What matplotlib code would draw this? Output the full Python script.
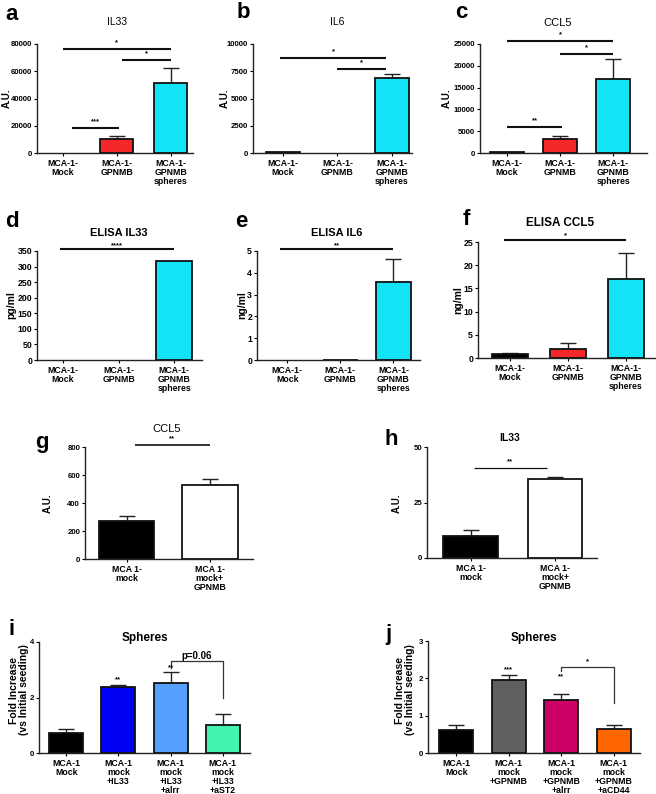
import matplotlib
matplotlib.use("Agg")
import matplotlib.pyplot as plt

plt.rcParams['font.family'] = ['Liberation Sans', 'DejaVu Sans']
plt.rcParams['font.weight'] = 'bold'

W, H = 656, 794

# ---- data ----
cats3 = ['MCA-1-\nMock', 'MCA-1-\nGPNMB', 'MCA-1-\nGPNMB\nspheres']
cats2 = ['MCA 1-\nmock', 'MCA 1-\nmock+\nGPNMB']
cats_i = ['MCA-1\nMock', 'MCA-1\nmock\n+IL33', 'MCA-1\nmock\n+IL33\n+alrr', 'MCA-1\nmock\n+IL33\n+aST2']
cats_j = ['MCA-1\nMock', 'MCA-1\nmock\n+GPNMB', 'MCA-1\nmock\n+GPNMB\n+alrr', 'MCA-1\nmock\n+GPNMB\n+aCD44']

a_mean = [0, 10000, 51500]
a_err = [0, 2200, 11000]
b_mean = [60, 0, 6900]
b_err = [0, 0, 350]
c_mean = [250, 3100, 17000]
c_err = [0, 750, 4500]
d_mean = [0, 0, 318]
d_err = [0, 0, 0]
e_mean = [0, 0.02, 3.6]
e_err = [0, 0, 1.05]
f_mean = [0.86, 1.95, 17.1]
f_err = [0.28, 1.25, 5.5]
g_mean = [275, 527]
g_err = [31, 45]
h_mean = [10.1, 35.4]
h_err = [2.4, 0.9]
i_mean = [0.72, 2.37, 2.53, 1.02]
i_err = [0.13, 0.09, 0.38, 0.40]
j_mean = [0.61, 1.95, 1.43, 0.64]
j_err = [0.14, 0.15, 0.16, 0.11]

RED = '#F42828'
CYAN = '#12E3F7'
col3 = ['black', RED, CYAN]
col2 = ['black', 'white']
col_i = ['black', '#0000F5', '#55A0FF', '#44F2B0']
col_j = ['black', '#606060', '#CC0066', '#FF6600']

fig = plt.figure(figsize=(W / 100, H / 100), dpi=100)


def px_axes(l, r, t, b):
    return fig.add_axes([l / W, 1 - b / H, (r - l) / W, (b - t) / H])


def bar_panel(box, means, errs, colors, cats, xlim, ylim, yticks, width=0.63):
    ax = px_axes(*box)
    x = list(range(len(means)))
    edges = ['#111111' if m > 0 else 'none' for m in means]
    ax.bar(x, means, width=width, color=colors, edgecolor=edges, linewidth=1.3, zorder=2)
    # only draw upper error bars where there is an error
    ex = [k for k in x if errs[k] > 0]
    if ex:
        ax.errorbar(ex, [means[k] for k in ex], yerr=[[0] * len(ex), [errs[k] for k in ex]],
                    fmt='none', ecolor='#222222', elinewidth=1.0, capsize=6, capthick=1.0,
                    zorder=1)
    ax.set_xlim(*xlim)
    ax.set_ylim(*ylim)
    ax.set_yticks(yticks)
    ax.set_xticks(x)
    ax.set_xticklabels(cats, fontsize=6.3, fontweight='bold', linespacing=1.0)
    ax.tick_params(axis='y', labelsize=5.6, length=2.5, width=0.8, pad=1)
    ax.tick_params(axis='x', length=2.5, width=0.8, pad=2)
    for s in ['top', 'right']:
        ax.spines[s].set_visible(False)
    for s in ['left', 'bottom']:
        ax.spines[s].set_linewidth(1.0)
        ax.spines[s].set_color('#222222')
    return ax


def sig(ax, x0, x1, y, label, lw=1.5, dy=2):
    ax.plot([x0, x1], [y, y], color='#111111', lw=lw, clip_on=False, solid_capstyle='butt')
    ax.annotate(label, xy=((x0 + x1) / 2, y), xytext=(0, dy), textcoords='offset points',
                ha='center', va='bottom', fontsize=5.5, annotation_clip=False)


def label(x, y, s, size=16):
    fig.text(x / W, 1 - y / H, s, fontsize=size, fontweight='bold', ha='left', va='baseline')


def title(x, y, s, size=7.5, weight='bold'):
    fig.text(x / W, 1 - y / H, s, fontsize=size, fontweight=weight, ha='center', va='center')


def ylab(x, y, s, size=7):
    fig.text(x / W, 1 - y / H, s, fontsize=size, fontweight='bold', ha='center', va='center',
             rotation=90, linespacing=1.0)


# ---- row 1 ----
ax = bar_panel((37, 193, 44, 153), a_mean, a_err, col3, cats3, (-0.48, 2.41), (0, 80000),
               range(0, 80001, 20000), width=0.61)
sig(ax, 0, 2, 76000, '*')
sig(ax, 1.1, 2, 68000, '*')
sig(ax, 0.17, 1.04, 18000, '***')
label(5, 20, 'a'); title(117, 22, 'IL33', 7.5, 'normal'); ylab(7, 98, 'A.U.')

ax = bar_panel((253, 412, 44, 153), b_mean, b_err, col3, cats3, (-0.55, 2.37), (0, 10000),
               range(0, 10001, 2500))
sig(ax, -0.05, 1.9, 8700, '*')
sig(ax, 1.0, 1.9, 7700, '*')
label(237, 18, 'b'); title(337, 22, 'IL6', 7.5, 'normal'); ylab(225, 98, 'A.U.')

ax = bar_panel((480, 647, 44, 153), c_mean, c_err, col3, cats3, (-0.51, 2.64), (0, 25000),
               range(0, 25001, 5000))
sig(ax, 0, 2, 25600, '*')
sig(ax, 1.0, 2, 22700, '*')
sig(ax, 0, 1.04, 5900, '**')
label(455, 18, 'c'); title(558, 23, 'CCL5', 8, 'normal'); ylab(447, 98, 'A.U.')

# ---- row 2 ----
ax = bar_panel((37, 202, 251, 360), d_mean, d_err, col3, cats3, (-0.47, 2.5), (0, 350),
               range(0, 351, 50), width=0.65)
ax.tick_params(axis='y', labelsize=6.3)
sig(ax, -0.05, 2.0, 357, '****', dy=0)
label(5, 227, 'd'); title(119, 233, 'ELISA IL33', 8); ylab(11, 305, 'pg/ml', 7.5)

ax = bar_panel((257, 420, 251, 360), e_mean, e_err, col3, cats3, (-0.57, 2.5), (0, 5),
               range(0, 6), width=0.65)
ax.tick_params(axis='y', labelsize=6.3)
sig(ax, -0.13, 2.0, 5.09, '**', dy=0)
label(235, 227, 'e'); title(337, 233, 'ELISA IL6', 8); ylab(242, 305, 'ng/ml', 7.5)

ax = bar_panel((478, 655, 242, 358), f_mean, f_err, col3, cats3, (-0.55, 2.5), (0, 25),
               range(0, 26, 5), width=0.63)
ax.tick_params(axis='y', labelsize=6.3)
sig(ax, -0.1, 2.0, 25.4, '*', dy=1)
label(463, 225, 'f'); title(560, 223, 'ELISA CCL5', 8.5); ylab(458, 300, 'ng/ml', 7.5)

# ---- row 3 ----
ax = bar_panel((85, 253, 447, 559), g_mean, g_err, col2, cats2, (-0.5, 1.52), (0, 800),
               range(0, 801, 200), width=0.67)
sig(ax, 0.1, 1.0, 812, '**', lw=1.2)
label(35, 448, 'g'); title(167, 429, 'CCL5', 8, 'normal'); ylab(48, 503, 'A.U.')

ax = bar_panel((427, 597, 447, 558), h_mean, h_err, col2, cats2, (-0.52, 1.5), (0, 50),
               [0, 25, 50], width=0.65)
sig(ax, 0.04, 0.9, 40.4, '**', lw=0.9)
label(385, 445, 'h'); title(510, 438, 'IL33', 7.5); ylab(397, 503, 'A.U.')

# ---- row 4 ----
ax = bar_panel((39, 250, 642, 753), i_mean, i_err, col_i, cats_i, (-0.52, 3.52), (0, 4),
               [0, 2, 4], width=0.65)
ax.plot([2, 2, 3, 3], [3.06, 3.30, 3.30, 2.0], color='#333333', lw=0.9, clip_on=False)
ax.text(2.5, 3.33, 'p=0.06', ha='center', va='bottom', fontsize=7)
for k in (1, 2):
    ax.text(k, i_mean[k] + i_err[k] + 0.05, '**', ha='center', va='bottom', fontsize=5.5)
label(8, 635, 'i'); title(145, 638, 'Spheres', 8.5)
ylab(19, 690, 'Fold Increase\n(vs Initial seeding)', 7.5)

ax = bar_panel((428, 640, 641, 753), j_mean, j_err, col_j, cats_j, (-0.54, 3.5), (0, 3),
               range(0, 4), width=0.65)
ax.plot([2, 2, 3, 3], [2.2, 2.31, 2.31, 1.33], color='#333333', lw=0.9, clip_on=False)
ax.text(2.5, 2.34, '*', ha='center', va='bottom', fontsize=5.5)
ax.text(1, 2.14, '***', ha='center', va='bottom', fontsize=5.5)
ax.text(2, 1.95, '**', ha='center', va='bottom', fontsize=5.5)
label(385, 640, 'j'); title(534, 638, 'Spheres', 8.5)
ylab(405, 690, 'Fold Increase\n(vs Initial seeding)', 7.5)

fig.savefig('out.png', dpi=100)
